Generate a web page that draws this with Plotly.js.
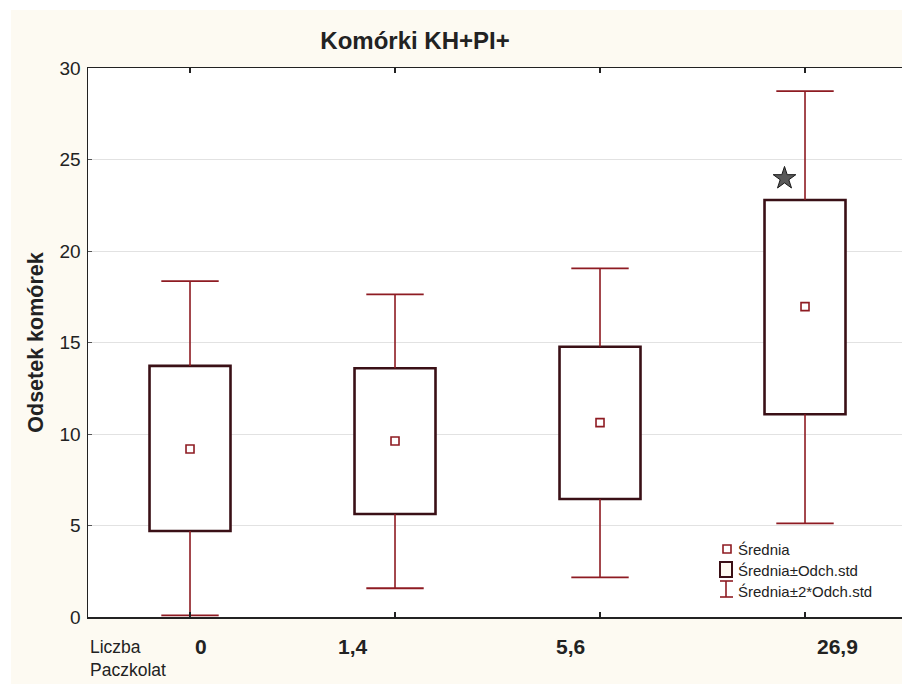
<!DOCTYPE html>
<html>
<head>
<meta charset="utf-8">
<script src="https://cdn.plot.ly/plotly-3.0.1.min.js"></script>
<style>html,body{margin:0;padding:0;background:#fff;}#chart{width:902px;height:684px;}</style>
</head>
<body>
<div id="chart"></div>
<script>
// ---- data ----
const categories = ["0", "1,4", "5,6", "26,9"];
const means      = [9.18, 9.62, 10.62, 16.96];
const boxLow     = [4.70, 5.63, 6.45, 11.08];   // mean - SD
const boxHigh    = [13.72, 13.59, 14.77, 22.79]; // mean + SD
const whiskLow   = [0.09, 1.57, 2.17, 5.12];    // mean - 2*SD
const whiskHigh  = [18.35, 17.63, 19.05, 28.74]; // mean + 2*SD
const starCategoryIndex = [3];
const starValue  = [23.97];
const legendLabels = ["Średnia", "Średnia±Odch.std", "Średnia±2*Odch.std"];
const xVariableName = "Liczba<br>Paczkolat";

// ---- styling ----
const FONT = "Liberation Sans, Arial, Helvetica, sans-serif";
const RED = "#8e1b22";
const DARK = "#3a1016";
const CREAM = "#fdfaf2";
const idx = categories.map((_, i) => i);

// whisker stems
const stemX = [], stemY = [];
idx.forEach(i => {
  stemX.push(i, i, null, i, i, null);
  stemY.push(boxHigh[i], whiskHigh[i], null, boxLow[i], whiskLow[i], null);
});
const capX = [], capY = [];
idx.forEach(i => { capX.push(i, i); capY.push(whiskHigh[i], whiskLow[i]); });

const traces = [
  { type: "bar", x: idx, base: boxLow, y: idx.map(i => boxHigh[i] - boxLow[i]),
    width: 0.395, marker: { color: "#ffffff", line: { color: DARK, width: 2.6 } },
    showlegend: false, hoverinfo: "skip" },
  { type: "scatter", mode: "lines", x: stemX, y: stemY,
    line: { color: RED, width: 1.6 }, showlegend: false, hoverinfo: "skip" },
  { type: "scatter", mode: "markers", x: capX, y: capY,
    marker: { symbol: "line-ew", size: 41, color: RED, line: { color: RED, width: 1.8 } },
    showlegend: false, hoverinfo: "skip" },
  { type: "scatter", mode: "markers", x: idx, y: means,
    marker: { symbol: "square-open", size: 8, color: RED, line: { color: RED, width: 1.6 } },
    showlegend: false, hoverinfo: "skip" },
  { type: "scatter", mode: "markers", x: starCategoryIndex.map(i => i - 0.1), y: starValue,
    marker: { symbol: "star", size: 17, color: "#595959", line: { color: "#1a1a1a", width: 1 } },
    showlegend: false, hoverinfo: "skip" }
];

// layout geometry
const W = 902, H = 684, L = 88, R = 0, T = 68, B = 67;
const pw = W - L - R, ph = H - T - B;
const px = x => (x - L) / pw;
const py = y => (H - B - y) / ph;
// category label columns (this chart style places them in a table-like row)
const labelCenterPx = [200.5, 352.5, 570, 837];

const shapes = [
  // white outer frame strips (cream panel starts at ~10px)
  { type: "rect", xref: "paper", yref: "paper", x0: px(0), x1: px(W), y0: py(0), y1: py(10),
    fillcolor: "#ffffff", line: { width: 0 }, layer: "below" },
  { type: "rect", xref: "paper", yref: "paper", x0: px(0), x1: px(11), y0: py(0), y1: py(H),
    fillcolor: "#ffffff", line: { width: 0 }, layer: "below" },
  // legend icons
  { type: "rect", xref: "paper", yref: "paper", x0: px(723), x1: px(731), y0: py(553), y1: py(545),
    fillcolor: "rgba(0,0,0,0)", line: { color: RED, width: 1.6 } },
  { type: "rect", xref: "paper", yref: "paper", x0: px(720), x1: px(732), y0: py(577), y1: py(562),
    fillcolor: CREAM, line: { color: DARK, width: 2 } },
  { type: "line", xref: "paper", yref: "paper", x0: px(726), x1: px(726), y0: py(597), y1: py(581),
    line: { color: RED, width: 1.6 } },
  { type: "line", xref: "paper", yref: "paper", x0: px(720), x1: px(733), y0: py(581), y1: py(581),
    line: { color: RED, width: 1.6 } },
  { type: "line", xref: "paper", yref: "paper", x0: px(720), x1: px(733), y0: py(597), y1: py(597),
    line: { color: RED, width: 1.6 } }
];

const legendRowsY = [549, 570, 591];
const annotations = legendLabels.map((t, k) => ({
  text: t, xref: "paper", yref: "paper", x: px(736), y: py(legendRowsY[k]),
  xanchor: "left", yanchor: "middle", showarrow: false,
  font: { family: FONT, size: 15, color: "#222" }
}));
categories.forEach((c, i) => annotations.push({
  text: "<b>" + c + "</b>", xref: "paper", yref: "paper", x: px(labelCenterPx[i]), y: py(646),
  xanchor: "center", yanchor: "middle", showarrow: false,
  font: { family: FONT, size: 21, color: "#222" }
}));
annotations.push({
  text: xVariableName, xref: "paper", yref: "paper", x: px(88), y: py(647),
  xanchor: "left", yanchor: "top", align: "left", showarrow: false, yshift: 12,
  font: { family: FONT, size: 17.5, color: "#222" }
});

const layout = {
  width: W, height: H,
  margin: { l: L, r: R, t: T, b: B, pad: 0 },
  paper_bgcolor: CREAM, plot_bgcolor: "#ffffff",
  showlegend: false,
  title: { text: "<b>Komórki KH+PI+</b>", x: 415 / W, xanchor: "center", xref: "container",
           y: 1 - 41 / H, yanchor: "middle", yref: "container",
           font: { family: FONT, size: 24, color: "#222" } },
  xaxis: {
    range: [-0.4976, (W - L) / 205 - 0.4976],
    tickmode: "array", tickvals: idx, showticklabels: false,
    ticks: "inside", ticklen: 5, tickwidth: 1.2, tickcolor: "#222",
    showline: true, linecolor: "#222", linewidth: 1.5, mirror: "ticks",
    showgrid: false, zeroline: false
  },
  yaxis: {
    range: [0, 30], tickmode: "array", tickvals: [0, 5, 10, 15, 20, 25, 30],
    ticks: "inside", ticklen: 4, tickcolor: "#555", tickwidth: 1,
    showline: true, linecolor: "#222", linewidth: 1.5,
    showgrid: true, gridcolor: "#e2e2e2", gridwidth: 1, zeroline: false,
    tickfont: { family: FONT, size: 19, color: "#222" }, ticklabelstandoff: 2,
    title: { text: "<b>Odsetek komórek</b>", standoff: 10,
             font: { family: FONT, size: 21.5, color: "#222" } }
  },
  shapes: shapes,
  annotations: annotations
};

Plotly.newPlot("chart", traces, layout, { displayModeBar: false, staticPlot: true });
</script>
</body>
</html>
